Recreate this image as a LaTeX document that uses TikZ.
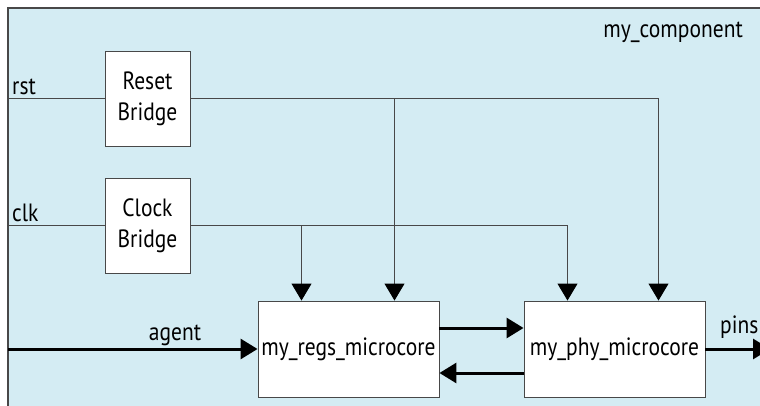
\documentclass[tikz,border=0pt]{standalone}
\usepackage{fontspec}
\setmainfont[FakeStretch=0.86]{PT Sans}
\usetikzlibrary{arrows.meta}
\definecolor{compbg}{RGB}{212,236,243}
\definecolor{wiregray}{RGB}{72,72,72}

\begin{document}
\begin{tikzpicture}[
    x=1pt, y=-1pt,
    font=\fontsize{25}{31}\selectfont,
    box/.style={draw=wiregray, fill=white, line width=0.9pt, align=center, inner sep=0pt},
    bridge/.style={box, minimum width=85pt, minimum height=95pt},
    core/.style={box, minimum width=181pt, minimum height=96pt},
    lbl/.style={inner sep=0pt},
    line/.style={draw=wiregray, line width=0.9pt},
    sig/.style={line, -{Triangle[length=17pt, width=20pt, fill=black, color=black]}},
    bus/.style={draw=black, line width=3pt, -{Triangle[length=17pt, width=20pt]}}
  ]
    \useasboundingbox (0,0) rectangle (760,406);
    \clip (0,0) rectangle (760,406);
    \path[fill=compbg, draw=wiregray, line width=1.2pt] (8,8) rectangle (790,430);

    \node[bridge] (reset) at (147.5,98.5)  {Reset\\Bridge};
    \node[bridge] (clock) at (147.5,225.5) {Clock\\Bridge};
    \node[core]   (regs)  at (348.5,349)   {my\_regs\_microcore};
    \node[core]   (phy)   at (614.5,349)   {my\_phy\_microcore};

    \node[lbl, anchor=base west] (rstlbl)   at (12,95)   {rst};
    \node[lbl, anchor=base west] (clklbl)   at (12,222)  {clk};
    \node[lbl, anchor=base east] (complbl)  at (743,38)  {my\_component};
    \node[lbl, anchor=base]      (agentlbl) at (175,340) {agent};
    \node[lbl, anchor=base west] (pinslbl)  at (720,333) {pins};

    \coordinate (rstin)   at (8,98.5);
    \coordinate (clkin)   at (8,225.5);
    \coordinate (agentin) at (8,349);
    \coordinate (pinsout) at (770,349);

    \draw[line] (rstin) -- (reset.west);
    \draw[sig] (reset.east) -| ([xshift=44pt]phy.north);
    \draw[sig] ([xshift=46pt]regs.north |- reset.east) -- ([xshift=46pt]regs.north);
    \draw[line] (clkin) -- (clock.west);
    \draw[sig] (clock.east) -| ([xshift=-47pt]phy.north);
    \draw[sig] ([xshift=-47pt]regs.north |- clock.east) -- ([xshift=-47pt]regs.north);
    \draw[bus] ([yshift=21pt]regs.east) -- ([yshift=21pt]phy.west);
    \draw[bus] ([yshift=-24pt]phy.west) -- ([yshift=-24pt]regs.east);
    \draw[bus] (agentin) -- (regs.west);
    \draw[bus] (phy.east) -- (pinsout);
  \end{tikzpicture}
\end{document}
